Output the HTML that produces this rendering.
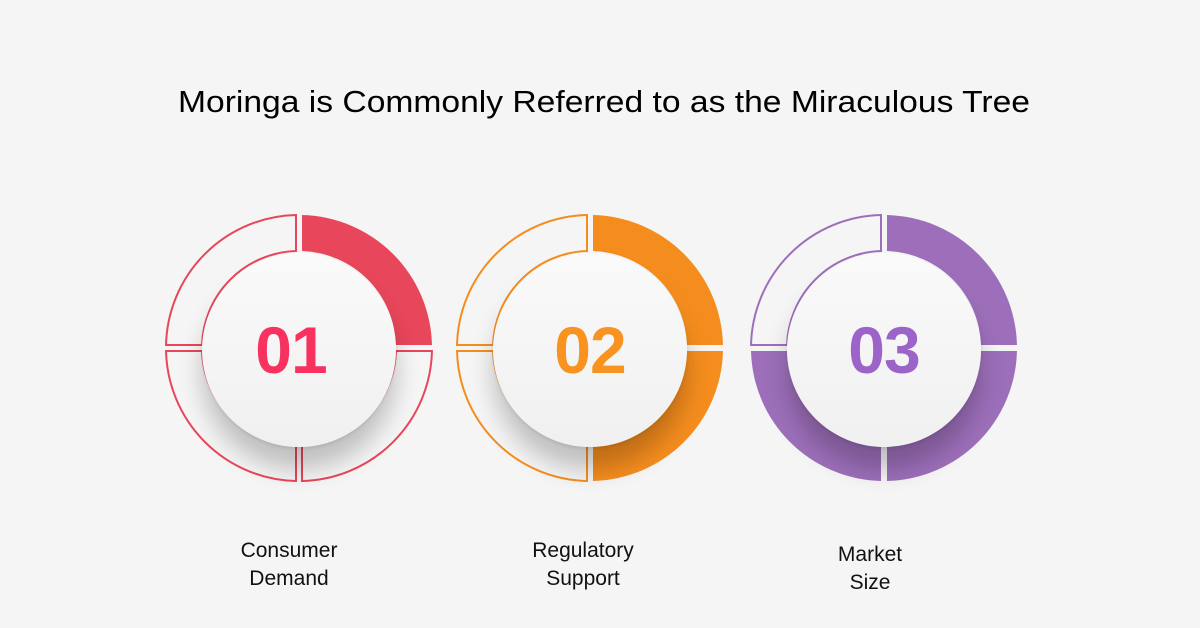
<!DOCTYPE html>
<html><head><meta charset="utf-8"><style>
html,body{margin:0;padding:0}
body{width:1200px;height:628px;overflow:hidden;background:#f5f5f5;position:relative;font-family:"Liberation Sans",Arial,sans-serif}
.disc{position:absolute;width:194px;height:194px;border-radius:50%;background:linear-gradient(180deg,#fafafa,#f0f0f0);box-shadow:0 22px 24px rgba(0,0,0,0.22),0 2px 3px rgba(0,0,0,0.08);}
.num{position:absolute;width:194px;top:0;line-height:194px;text-align:center;font-weight:bold;font-size:66px;letter-spacing:-1px}
.lbl{position:absolute;width:200px;text-align:center;font-size:21px;line-height:28px;color:#111}
</style></head><body>
<svg id="s" width="1200" height="628" style="position:absolute;left:0;top:0">
<text x="604" y="112" text-anchor="middle" font-family="Liberation Sans, Arial, sans-serif" font-size="31" fill="#000" textLength="852" lengthAdjust="spacingAndGlyphs">Moringa is Commonly Referred to as the Miraculous Tree</text>
</svg>
<div class="disc" style="left:202px;top:253px"><div class="num" style="color:#f7325f;margin-left:-8px">01</div></div>
<div class="disc" style="left:493px;top:253px"><div class="num" style="color:#f7931e">02</div></div>
<div class="disc" style="left:787px;top:253px"><div class="num" style="color:#9c63c9">03</div></div>
<div class="lbl" style="left:189px;top:537px">Consumer<br>Demand</div>
<div class="lbl" style="left:483px;top:537px">Regulatory<br>Support</div>
<div class="lbl" style="left:770px;top:541px">Market<br>Size</div>
<script>
var s=document.getElementById('s');
var R=133,r=97,g=3;
function quad(cx,cy,sx,sy,fill,col){
 var a=Math.sqrt(R*R-g*g),b=Math.sqrt(r*r-g*g);
 var p1=[cx+sx*g,cy+sy*a],p2=[cx+sx*a,cy+sy*g],p3=[cx+sx*b,cy+sy*g],p4=[cx+sx*g,cy+sy*b];
 var sweep=(sx*sy<0)?1:0;
 var d='M'+p1+' A'+R+','+R+' 0 0 '+sweep+' '+p2+' L'+p3+' A'+r+','+r+' 0 0 '+(1-sweep)+' '+p4+' Z';
 var e=document.createElementNS('http://www.w3.org/2000/svg','path');
 e.setAttribute('d',d);
 if(fill){e.setAttribute('fill',col);}else{e.setAttribute('fill','none');e.setAttribute('stroke',col);e.setAttribute('stroke-width','2');}
 s.insertBefore(e,s.firstChild);
}
var C=[[299,348,'#e8465a',[1,0,0,0]],[590,348,'#f58d1e',[1,1,0,0]],[884,348,'#9d6fba',[1,1,1,0]]];
C.forEach(function(c){
 quad(c[0],c[1],1,-1,c[3][0],c[2]);
 quad(c[0],c[1],1,1,c[3][1],c[2]);
 quad(c[0],c[1],-1,1,c[3][2],c[2]);
 quad(c[0],c[1],-1,-1,c[3][3],c[2]);
});
</script>
</body></html>
